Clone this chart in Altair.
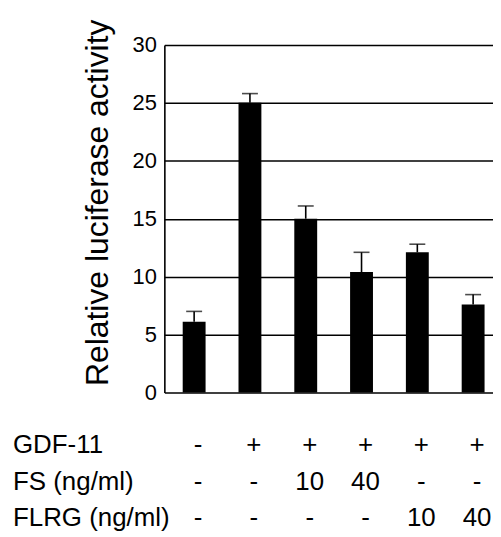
import altair as alt
import pandas as pd

conditions = ["c1", "c2", "c3", "c4", "c5", "c6"]
activity = [6.1, 25.0, 15.0, 10.4, 12.1, 7.6]
error_top = [7.0, 25.8, 16.1, 12.1, 12.8, 8.45]
gdf11 = ["-", "+", "+", "+", "+", "+"]
fs = ["-", "-", "10", "40", "-", "-"]
flrg = ["-", "-", "-", "-", "10", "40"]
row_labels = ["GDF-11", "FS (ng/ml)", "FLRG (ng/ml)"]
y_ticks = [0, 5, 10, 15, 20, 25, 30]

df = pd.DataFrame({
    "cond": conditions, "activity": activity, "err": error_top,
    "gdf": gdf11, "fs": fs, "flrg": flrg,
})

FONT = "Liberation Sans"
W, H = 330, 349
LINE = 1.6
TITLE = "Relative luciferase activity"

xenc = alt.X("cond:N", sort=conditions,
             scale=alt.Scale(paddingInner=0.59, paddingOuter=0.24, align=0.685),
             axis=None)
yscale = alt.Scale(domain=[0, 30], nice=False, zero=True)
yaxis = alt.Axis(values=y_ticks, grid=True, gridColor="black", gridWidth=LINE,
                 gridOpacity=1, domainColor="black", domainWidth=LINE, ticks=False,
                 labelFont=FONT, labelFontSize=22, labelColor="black", labelPadding=8,
                 titleFont=FONT, titleFontSize=32,
                 titleFontWeight="normal", titleColor="black", titleAngle=-90,
                 titleX=-57, titleY=158, titleAlign="center", titleBaseline="alphabetic")

base = alt.Chart(df)
bars = base.mark_bar(color="black").encode(
    x=xenc, y=alt.Y("activity:Q", scale=yscale, axis=yaxis, title=TITLE))
errs = base.mark_rule(color="black", strokeWidth=LINE).encode(
    x=xenc, y=alt.Y("activity:Q", scale=yscale, axis=yaxis, title=TITLE), y2="err:Q")
caps = base.mark_tick(color="black", thickness=LINE, size=16, orient="horizontal").encode(
    x=xenc, y=alt.Y("err:Q", scale=yscale, axis=yaxis, title=TITLE))

row_y = [402, 439, 475]
cols = ["gdf", "fs", "flrg"]
layers = [bars, errs, caps]
for i, c in enumerate(cols):
    layers.append(base.mark_text(font=FONT, fontSize=26, color="black", dx=4,
                                 baseline="middle").encode(
        x=xenc, y=alt.value(row_y[i]), text=f"{c}:N"))
    layers.append(alt.Chart(pd.DataFrame({"t": [row_labels[i]]})).mark_text(
        font=FONT, fontSize=26, color="black", align="left", baseline="middle").encode(
        x=alt.value(-152), y=alt.value(row_y[i]), text="t:N"))

chart = alt.layer(*layers).properties(
    width=W, height=H,
    autosize=alt.AutoSizeParams(type="none"),
    padding={"left": 157, "top": 36, "right": 0, "bottom": 140},
).configure_view(stroke=None)

chart.save("out.html", embed_options={"renderer": "svg", "actions": False})
